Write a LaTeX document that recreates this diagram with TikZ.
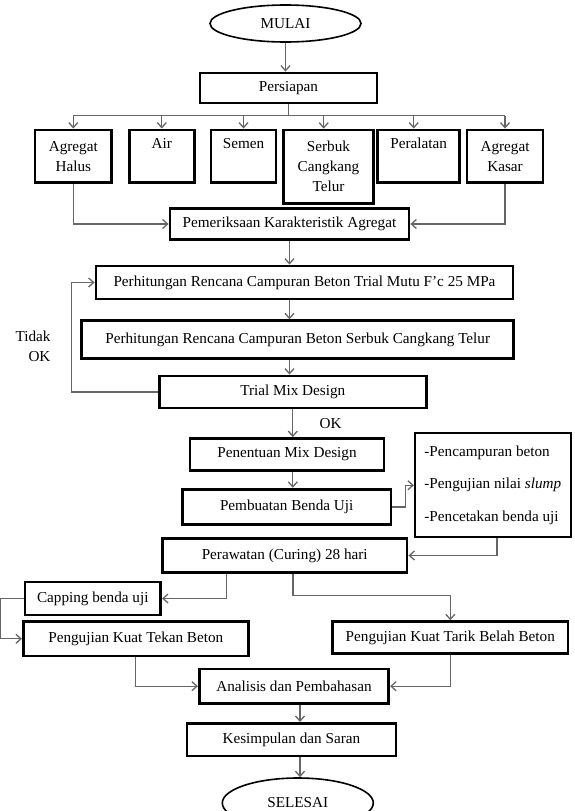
\documentclass[tikz,border=0pt]{standalone}
\usepackage{fontspec}
\setmainfont{Liberation Serif}
\usetikzlibrary{shapes.geometric,arrows.meta}

\begin{document}
\begin{tikzpicture}[x=1pt, y=-1pt,
    font=\fontsize{15.2}{20}\selectfont,
    box/.style={draw, line width=2.8pt, inner sep=0pt, align=center},
    oval/.style={draw, ellipse, line width=1.6pt, inner sep=0pt},
    conn/.style={draw=black!60, line width=1.3pt, -{Straight Barb[length=5pt,width=9pt]}},
    wire/.style={draw=black!60, line width=1.3pt}]
    \useasboundingbox (0,0) rectangle (574,811);
    % mulai
    \node[oval, minimum width=151pt, minimum height=37pt] (mulai) at (285.5,23.5) {MULAI};
    \node[box, minimum width=177pt, minimum height=30pt] (persiapan) at (288.5,88) {Persiapan};
    % bahan
    \node[box, minimum width=76.7pt, minimum height=52.7pt] (halus) at (73.3,156.3) {Agregat\\Halus};
    \node[box, minimum width=65pt, minimum height=52.7pt] (air) at (161.8,156.3) {Air\\\strut};
    \node[box, minimum width=65pt, minimum height=52.7pt] (semen) at (243.5,156.3) {Semen\\\strut};
    \node[box, minimum width=90.4pt, minimum height=73.3pt] (serbuk) at (328.5,166.7) {Serbuk\\Cangkang\\Telur};
    \node[box, minimum width=82pt, minimum height=52.7pt] (alat) at (418.7,156.3) {Peralatan\\\strut};
    \node[box, minimum width=76pt, minimum height=52.7pt] (kasar) at (505,156.3) {Agregat\\Kasar};
    \coordinate (bus) at (288,115.7);
    % perhitungan
    \node[box, minimum width=239pt, minimum height=31.7pt] (periksa) at (289.5,224) {Pemeriksaan Karakteristik Agregat};
    \node[box, minimum width=417pt, minimum height=33pt] (trial) at (304.5,282.5) {Perhitungan Rencana Campuran Beton Trial Mutu F'c 25 MPa};
    \node[box, minimum width=432pt, minimum height=37.6pt] (hitung) at (297.7,339.5) {Perhitungan Rencana Campuran Beton Serbuk Cangkang Telur};
    \node[box, minimum width=267pt, minimum height=32pt] (mix) at (292.8,392) {Trial Mix Design};
    \node[anchor=east, align=right] (tidak) at (54,346.7) {Tidak\\OK};
    \node (ok) at (330.5,424) {OK};
    % benda uji
    \node[box, minimum width=194pt, minimum height=32pt] (tentu) at (287,454.5) {Penentuan Mix Design};
    \node[box, minimum width=208.7pt, minimum height=35.7pt] (buat) at (286.7,507) {Pembuatan Benda Uji};
    \node[box, line width=1.8pt, minimum width=156pt, minimum height=104pt, align=left,
        font=\fontsize{15.2}{32.7}\selectfont] (list) at (492.8,485.3)
        {-Pencampuran beton\\-Pengujian nilai \textit{slump}\\-Pencetakan benda uji};
    \node[box, minimum width=244.7pt, minimum height=34pt] (rawat) at (284.7,555.5) {Perawatan (Curing) 28 hari};
    % pengujian
    \node[box, minimum width=135.7pt, minimum height=33pt] (capping) at (92.8,598.5) {Capping benda uji};
    \node[box, minimum width=225pt, minimum height=34.3pt] (tekan) at (135.8,638.8) {Pengujian Kuat Tekan Beton};
    \node[box, minimum width=235.3pt, minimum height=31.7pt] (tarik) at (450.3,637.5) {Pengujian Kuat Tarik Belah Beton};
    \node[box, minimum width=189.4pt, minimum height=34.3pt] (analisis) at (294,686.2) {Analisis dan Pembahasan};
    \node[box, minimum width=209pt, minimum height=32.7pt] (simpul) at (291.4,739.7) {Kesimpulan dan Saran};
    \node[oval, minimum width=151pt, minimum height=50pt] (selesai) at (297.8,803) {SELESAI};

    % garis
    \draw[conn] (mulai.south) -- (mulai.south |- persiapan.north);
    \draw[wire] (persiapan.south) -- (persiapan.south |- bus);
    \draw[wire] (halus.north |- bus) -- (kasar.north |- bus);
    \draw[conn] (halus.north |- bus) -- (halus.north);
    \draw[conn] (air.north |- bus) -- (air.north);
    \draw[conn] (semen.north |- bus) -- (semen.north);
    \draw[conn] ([xshift=-4.8pt]serbuk.north |- bus) -- ([xshift=-4.8pt]serbuk.north);
    \draw[conn] ([xshift=-5pt]alat.north |- bus) -- ([xshift=-5pt]alat.north);
    \draw[conn] (kasar.north |- bus) -- (kasar.north);
    \draw[conn] (halus.south) |- (periksa.west);
    \draw[conn] (kasar.south) |- (periksa.east);

    \draw[conn] (periksa.south) -- (periksa.south |- trial.north);
    \draw[conn] (periksa.south |- trial.south) -- (periksa.south |- hitung.north);
    \draw[conn] (periksa.south |- hitung.south) -- (periksa.south |- mix.north);
    \draw[conn] (mix.west) -- ++(-86.6,0) |- (trial.west);
    \draw[conn] (mix.south) -- (mix.south |- tentu.north);
    \draw[conn] (mix.south |- tentu.south) -- (mix.south |- buat.north);
    \draw[conn] (buat.east) -- ++(12.7,0) |- (list.west);
    \draw[conn] ([xshift=4.2pt]list.south) |- (rawat.east);

    \draw[conn] ([xshift=-58pt]rawat.south) |- (capping.east);
    \draw[conn] ([xshift=8.3pt]rawat.south) -- ++(0,21.3) -| (tarik.north);
    \draw[conn] (capping.west) -- ++(-23.3,0) |- (tekan.west);
    \draw[conn] (tekan.south) |- (analisis.west);
    \draw[conn] (tarik.south) |- (analisis.east);
    \draw[conn] ([xshift=6pt]analisis.south) -- ([xshift=6pt]analisis.south |- simpul.north);
    \draw[conn] ([xshift=8.6pt]simpul.south) -- ([xshift=8.6pt]simpul.south |- selesai.north);
\end{tikzpicture}
\end{document}
